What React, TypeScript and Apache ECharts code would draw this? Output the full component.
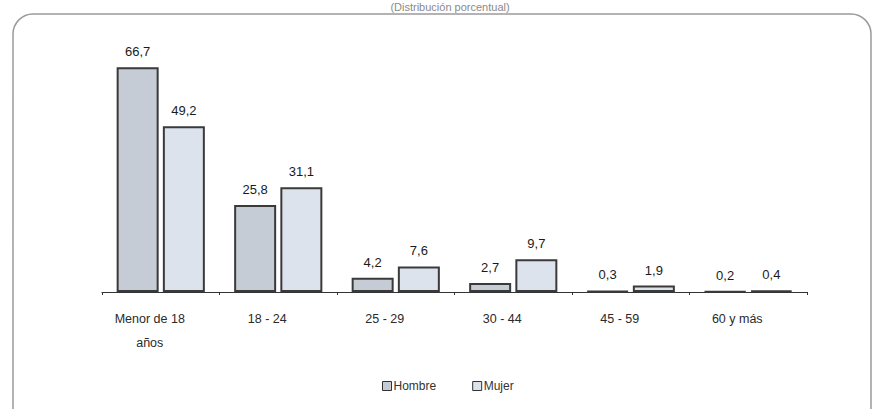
import React, { useEffect, useRef } from "react";
import * as echarts from "echarts";

const categories = ["Menor de 18\naños", "18 - 24", "25 - 29", "30 - 44", "45 - 59", "60 y más"];
const hombre = [66.7, 25.8, 4.2, 2.7, 0.3, 0.2];
const mujer = [49.2, 31.1, 7.6, 9.7, 1.9, 0.4];
const seriesNames = ["Hombre", "Mujer"];
const titleText = "(Distribución porcentual)";

const FONT = "'Liberation Sans Narrow', 'Liberation Sans', Arial, sans-serif";

export default function App() {
  const ref = useRef<HTMLDivElement>(null);
  useEffect(() => {
    if (!ref.current) return;
    const chart = echarts.init(ref.current, undefined, { renderer: "svg" });
    const fmt = (p: any) => String(p.value).replace(".", ",");
    const labelCfg = {
      show: true,
      position: "top",
      distance: 9,
      formatter: fmt,
      color: "#1a1a1a",
      fontSize: 13,
      fontFamily: FONT,
    };
    chart.setOption({
      animation: false,
      backgroundColor: "#fff",
      textStyle: { fontFamily: FONT },
      graphic: [
        {
          type: "rect",
          shape: { x: 13, y: 14, width: 858, height: 420, r: 20 },
          style: { fill: "none", stroke: "#9a9a9a", lineWidth: 1.5 },
          silent: true,
        },
        {
          type: "text",
          x: 450,
          y: 1,
          style: {
            text: titleText,
            fill: "#8a8a8a",
            fontSize: 11,
            fontFamily: FONT,
            textAlign: "center",
            textVerticalAlign: "top",
          },
          silent: true,
        },
      ],
      grid: { left: 102, right: 67, top: 56, bottom: 117, containLabel: false },
      legend: {
        data: seriesNames,
        left: 377,
        top: 375,
        itemWidth: 9,
        itemHeight: 9,
        itemGap: 36,
        icon: "rect",
        itemStyle: { borderWidth: 1, borderColor: "#333" },
        textStyle: { fontSize: 12, color: "#333", fontFamily: FONT, padding: [0, 0, 0, -3] },
      },
      xAxis: {
        type: "category",
        data: categories,
        axisLine: { lineStyle: { color: "#333", width: 1.2 } },
        axisTick: { show: true, length: 3, lineStyle: { color: "#333" } },
        axisLabel: {
          color: "#2a2a2a",
          fontSize: 12.5,
          fontFamily: FONT,
          lineHeight: 24,
          margin: 15,
          interval: 0,
          padding: [0, 22, 0, 0],
        },
      },
      yAxis: {
        type: "value",
        min: 0,
        max: 70,
        show: false,
        splitLine: { show: false },
      },
      series: [
        {
          name: seriesNames[0],
          type: "bar",
          data: hombre,
          barWidth: 42,
          barGap: "10%",
          itemStyle: { color: "#c6ccd6", borderColor: "#3a3a3a", borderWidth: 2 },
          label: labelCfg,
        },
        {
          name: seriesNames[1],
          type: "bar",
          data: mujer,
          barWidth: 42,
          barGap: "10%",
          itemStyle: { color: "#dde3ed", borderColor: "#3a3a3a", borderWidth: 2 },
          label: labelCfg,
        },
      ],
    });
    return () => chart.dispose();
  }, []);
  return (
    <div
      ref={ref}
      style={{ position: "fixed", left: 0, top: 0, width: 874, height: 409 }}
    />
  );
}
